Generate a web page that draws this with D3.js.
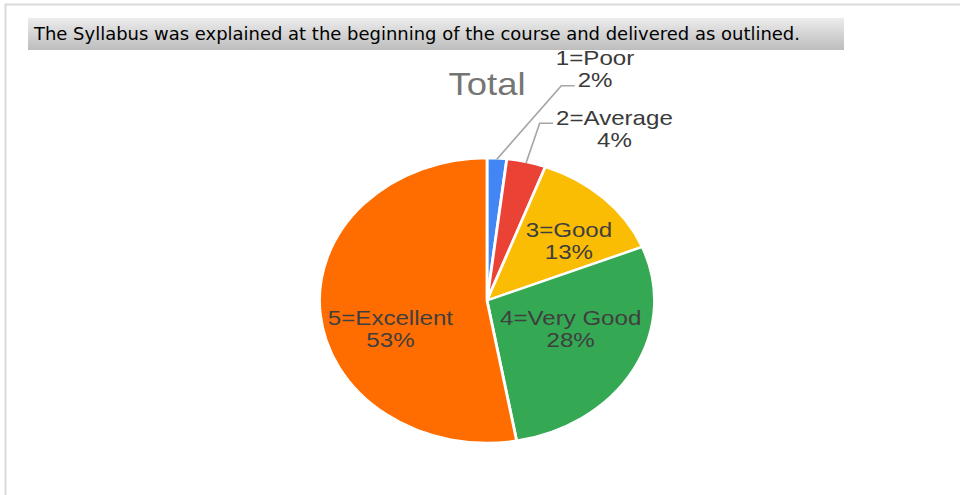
<!DOCTYPE html>
<html>
<head>
<meta charset="utf-8">
<script src="https://cdn.jsdelivr.net/npm/d3@7"></script>
<style>
  html, body { margin: 0; padding: 0; background: #fff; }
  svg { display: block; }
</style>
</head>
<body>
<svg id="chart" width="960" height="495"></svg>
<script>
// data (response counts, 53 answers)
const questionTitle = 'The Syllabus was explained at the beginning of the course and delivered as outlined.'
const chartTitle = 'Total'
const categories = ['1=Poor', '2=Average', '3=Good', '4=Very Good', '5=Excellent']
const counts = [1, 2, 7, 15, 28]
const sliceColors = ['#4285f4', '#ea4335', '#fbbc04', '#34a853', '#ff6d01']

const svg = d3.select('#chart')
const width = 960
const height = 495

// pie geometry (the picture is stretched sideways, so scale x)
const cx = 487
const cy = 300.5
const radius = 142.5
const stretchX = 167.5 / 142.5

// inside label tweaks: [angle shift in degrees, radius factor]
const insideLabelPos = { 2: [5.5, 0.642], 3: [-7.1, 0.538], 4: [-14, 0.61] }
// outside labels: [elbow angle deg, elbow radius factor, which text line the leader meets]
const outsideLabelPos = { 0: [16.4, 1.571, 1], 1: [14.2, 1.283, 0] }

// frame
svg.append('path')
  .attr('d', `M5.5,${height} V4.5 H${width}`)
  .attr('fill', 'none')
  .attr('stroke', '#d9d9d9')
  .attr('stroke-width', 2)

// title bar
const defs = svg.append('defs')
const grad = defs.append('linearGradient')
  .attr('id', 'barGrad')
  .attr('x1', 0).attr('y1', 0).attr('x2', 0).attr('y2', 1)
grad.append('stop').attr('offset', '0%').attr('stop-color', '#ececec')
grad.append('stop').attr('offset', '100%').attr('stop-color', '#bdbdbd')

svg.append('rect')
  .attr('x', 28)
  .attr('y', 18)
  .attr('width', 816)
  .attr('height', 32)
  .attr('fill', 'url(#barGrad)')

svg.append('text')
  .attr('x', 34)
  .attr('y', 40)
  .attr('font-family', 'DejaVu Sans, Verdana, sans-serif')
  .attr('font-size', '17px')
  .attr('textLength', 766)
  .attr('lengthAdjust', 'spacingAndGlyphs')
  .attr('fill', '#000')
  .text(questionTitle)

const total = d3.sum(counts)
const pctText = d => Math.round(d / total * 100) + '%'

const g = svg.append('g')
  .attr('transform', `translate(${cx},${cy}) scale(${stretchX},1)`)
  .style('font-family', 'Liberation Sans, Arial, sans-serif')

g.append('text')
  .attr('x', 0)
  .attr('y', -205.5)
  .attr('text-anchor', 'middle')
  .attr('font-size', '31px')
  .attr('fill', '#757575')
  .text(chartTitle)

const pie = d3.pie().sort(null).value(d => d)
const arcs = pie(counts)
const arc = d3.arc().innerRadius(0).outerRadius(radius)

g.selectAll('path.slice')
  .data(arcs)
  .join('path')
  .attr('class', 'slice')
  .attr('d', arc)
  .attr('fill', (d, i) => sliceColors[i])
  .attr('stroke', '#fff')
  .attr('stroke-width', 2.4)
  .attr('stroke-linejoin', 'round')

const polar = (ang, r) => [r * Math.sin(ang), -r * Math.cos(ang)]
const toRad = deg => deg * Math.PI / 180

// labels inside the slices
arcs.forEach((d, i) => {
  if (!insideLabelPos[i]) return
  const [shift, rf] = insideLabelPos[i]
  const mid = (d.startAngle + d.endAngle) / 2 + toRad(shift)
  const [x, y] = polar(mid, radius * rf)
  const t = g.append('text')
    .attr('text-anchor', 'middle')
    .attr('font-size', '20.5px')
    .attr('fill', '#3f3f3f')
  t.append('tspan').attr('x', x).attr('y', y - 4).text(categories[i])
  t.append('tspan').attr('x', x).attr('y', y + 18).text(pctText(counts[i]))
})

// small slices: leader line + label outside
arcs.forEach((d, i) => {
  if (!outsideLabelPos[i]) return
  const [elbowDeg, elbowRf, joinLine] = outsideLabelPos[i]
  const mid = (d.startAngle + d.endAngle) / 2
  const start = polar(mid, radius - 1)
  const elbow = polar(toRad(elbowDeg), radius * elbowRf)
  const end = [elbow[0] + 11.4, elbow[1]]

  g.append('path')
    .attr('d', d3.line()([start, elbow, end]))
    .attr('fill', 'none')
    .attr('stroke', '#a6a6a6')
    .attr('stroke-width', 1.4)

  const lines = [categories[i], pctText(counts[i])]
  const t = g.append('text')
    .attr('font-size', '20.5px')
    .attr('fill', '#3a3a3a')
    .attr('text-anchor', 'middle')
  const spans = lines.map((s, k) => t.append('tspan').text(s))
  const joinW = spans[joinLine].node().getComputedTextLength()
  const centerX = end[0] + 2.5 + joinW / 2
  const baseY = elbow[1] + 1.5
  spans.forEach((sp, k) => {
    sp.attr('x', centerX).attr('y', baseY + (k - joinLine) * 22.2)
  })
})
</script>
</body>
</html>
